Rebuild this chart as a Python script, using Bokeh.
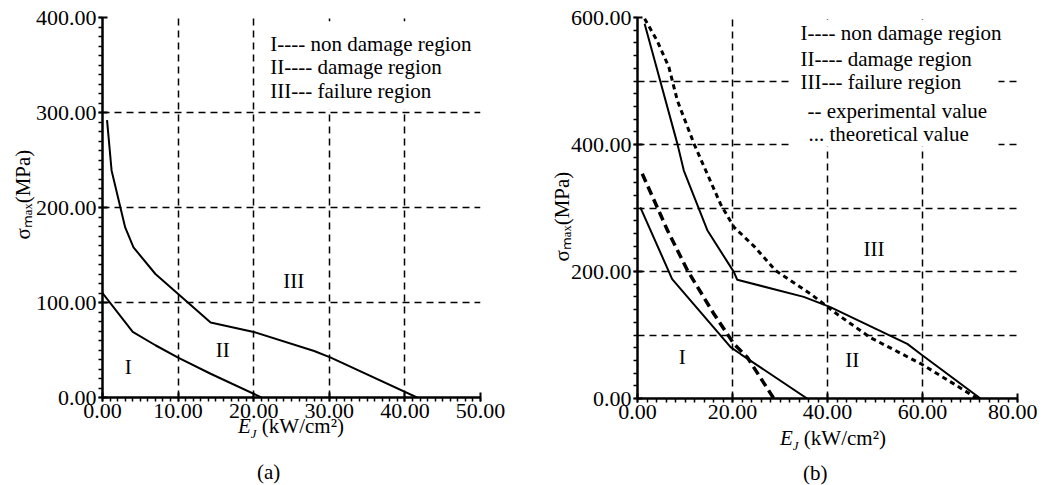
import math
from bokeh.plotting import figure
from bokeh.models import Range1d, Label, BoxAnnotation, FixedTicker, PrintfTickFormatter, Title, Div
from bokeh.layouts import row, column
from bokeh.embed import file_html
from bokeh.resources import INLINE

# ---------------- data : panel (a) ----------------
a_x_ticks = [0, 10, 20, 30, 40, 50]
a_y_ticks = [0, 100, 200, 300, 400]
a_lower_x = [0.0, 4.0, 7.0, 10.0, 14.3, 20.5, 21.0]
a_lower_y = [110, 69, 55, 42, 25, 2, 0]
a_upper_x = [0.6, 1.2, 3.0, 4.1, 7.0, 14.3, 20.0, 28.0, 30.2, 41.6]
a_upper_y = [292, 239, 179, 158, 130, 79, 69, 49, 42, 0]
a_legend = ["I---- non damage region", "II---- damage region", "III--- failure region"]
a_regions = ["I", "II", "III"]

# ---------------- data : panel (b) ----------------
b_x_ticks = [0, 20, 40, 60, 80]
b_y_ticks = [0, 200, 400, 600]
b_grid_y = [100, 200, 300, 400, 500, 600]
b_lower_solid_x = [0.6, 7.3, 19.6, 21.7, 35.7]
b_lower_solid_y = [301, 188, 81, 70, 0]
b_lower_dash_x = [1.0, 6.3, 10.5, 16.1, 20.3, 23.1, 28.7]
b_lower_dash_y = [354, 265, 202, 133, 86, 65, 0]
b_upper_solid_x = [1.5, 8.4, 9.75, 14.7, 20.3, 21.0, 35.0, 40.6, 56.8, 59.6, 72.2]
b_upper_solid_y = [590, 401, 359, 265, 199, 187, 160, 144, 86, 70, 0]
b_upper_dot_x = [1.5, 4.1, 6.6, 8.4, 11.9, 17.5, 20.3, 24.5, 29.0, 36.4, 42.0, 49.0, 59.6, 66.6, 71.5]
b_upper_dot_y = [598, 564, 522, 469, 401, 306, 270, 240, 202, 165, 133, 96, 55, 23, 0]
b_legend = ["I---- non damage region", "II---- damage region", "III--- failure region",
            "-- experimental value", "... theoretical value"]
b_regions = ["I", "II", "III"]

y_title = "σₘₐₓ(MPa)"
captions = ["(a)", "(b)"]

FONT = "Liberation Serif"


def make_fig(xmax, ymax, fw, fh, left, right):
    p = figure(frame_width=fw, frame_height=fh, x_range=Range1d(0, xmax), y_range=Range1d(0, ymax),
               output_backend="svg", toolbar_location=None,
               min_border_left=left, min_border_right=right, min_border_top=17, min_border_bottom=30)
    p.outline_line_color = None
    p.background_fill_color = "white"
    p.border_fill_color = "white"
    for ax in (p.xaxis[0], p.yaxis[0]):
        ax.formatter = PrintfTickFormatter(format="%.2f")
        ax.axis_line_width = 2.5
        ax.axis_line_color = "black"
        ax.major_tick_line_width = 2
        ax.major_tick_line_color = "black"
        ax.minor_tick_line_width = 1.5
        ax.minor_tick_line_color = "black"
        ax.major_tick_in = 5
        ax.major_tick_out = 4
        ax.minor_tick_in = 0
        ax.minor_tick_out = 4
        ax.major_label_text_font = FONT
        ax.major_label_text_font_size = "22px"
        ax.major_label_text_color = "black"
        ax.major_label_standoff = 2
    for g in (p.xgrid[0], p.ygrid[0]):
        g.grid_line_color = "black"
        g.grid_line_dash = "7 5"
        g.grid_line_width = 1.5
    return p


def txt(p, x, y, s, size="21px", align="left"):
    p.add_layout(Label(x=x, y=y, text=s, text_font=FONT, text_font_size=size, text_color="black",
                       text_align=align, text_baseline="middle"))


def ytitle(p, offset, standoff):
    p.add_layout(Title(text=y_title, align="left", offset=offset, standoff=standoff, text_font=FONT,
                       text_font_size="21px", text_font_style="normal", text_color="black"), "left")


def bottom_div(width, height, title_left, title_top, cap, cap_left, cap_top):
    html = (
        f'<div style="position:relative;width:{width}px;height:{height}px;'
        f'font-family:\'Liberation Serif\',serif;font-size:21px;line-height:24px;color:black;">'
        f'<span style="position:absolute;left:{title_left}px;top:{title_top}px;white-space:nowrap;">'
        f'<i>E</i><i style="font-size:13px;position:relative;top:5px;">J</i> (kW/cm²)</span>'
        f'<span style="position:absolute;left:{cap_left}px;top:{cap_top}px;white-space:nowrap;">{cap}</span>'
        f'</div>'
    )
    return Div(text=html, width=width, height=height, margin=0)


# ================= panel (a) =================
pa = make_fig(50, 400, 378, 380, 102, 40)
pa.xaxis.ticker = FixedTicker(ticks=a_x_ticks, minor_ticks=[i for i in range(0, 51)])
pa.yaxis.ticker = FixedTicker(ticks=a_y_ticks, minor_ticks=[i * 10 for i in range(0, 41)])
pa.xgrid.ticker = FixedTicker(ticks=a_x_ticks[1:])
pa.ygrid.ticker = FixedTicker(ticks=a_y_ticks[1:])
ytitle(pa, 158, -4)

pa.line(a_lower_x, a_lower_y, line_color="black", line_width=2)
pa.line(a_upper_x, a_upper_y, line_color="black", line_width=2)

pa.add_layout(BoxAnnotation(left=21.5, right=49.2, bottom=303, top=396, fill_color="white",
                            fill_alpha=1.0, line_color=None))
for i, s in enumerate(a_legend):
    txt(pa, 22.2, [372.6, 347.5, 323][i], s)
for s, x, y in zip(a_regions, [3.4, 15.9, 25.3], [31.6, 49.5, 123]):
    txt(pa, x, y, s, align="center")

# ================= panel (b) =================
pb = make_fig(80, 600, 380, 381, 117, 20)
pb.xaxis.ticker = FixedTicker(ticks=b_x_ticks, minor_ticks=[i * 2 for i in range(0, 41)])
pb.yaxis.ticker = FixedTicker(ticks=b_y_ticks, minor_ticks=[i * 20 for i in range(0, 31)])
pb.xgrid.ticker = FixedTicker(ticks=b_x_ticks[1:])
pb.ygrid.ticker = FixedTicker(ticks=b_grid_y)
ytitle(pb, 137, -12)

pb.line(b_lower_solid_x, b_lower_solid_y, line_color="black", line_width=2)
pb.line(b_lower_dash_x, b_lower_dash_y, line_color="black", line_width=3.5, line_dash="9 5")
pb.line(b_upper_solid_x, b_upper_solid_y, line_color="black", line_width=2)
pb.line(b_upper_dot_x, b_upper_dot_y, line_color="black", line_width=3, line_dash="5 4")

pb.add_layout(BoxAnnotation(left=32.5, right=76, bottom=397, top=596, fill_color="white",
                            fill_alpha=1.0, line_color=None))
for i, s in enumerate(b_legend):
    xs = [34.3, 34.3, 34.3, 35.8, 36.0][i]
    txt(pb, xs, [575, 535, 498, 453.5, 417][i], s)
for s, x, y in zip(b_regions, [9.4, 45.2, 49.8], [65, 60, 236]):
    txt(pb, x, y, s, align="center")

da = bottom_div(520, 57, 238, -14, captions[0], 257, 32)
db = bottom_div(517, 57, 260, -2, captions[1], 283, 33)

layout = column(row(pa, pb), row(da, db))
open("out.html", "w").write(file_html(layout, INLINE))
